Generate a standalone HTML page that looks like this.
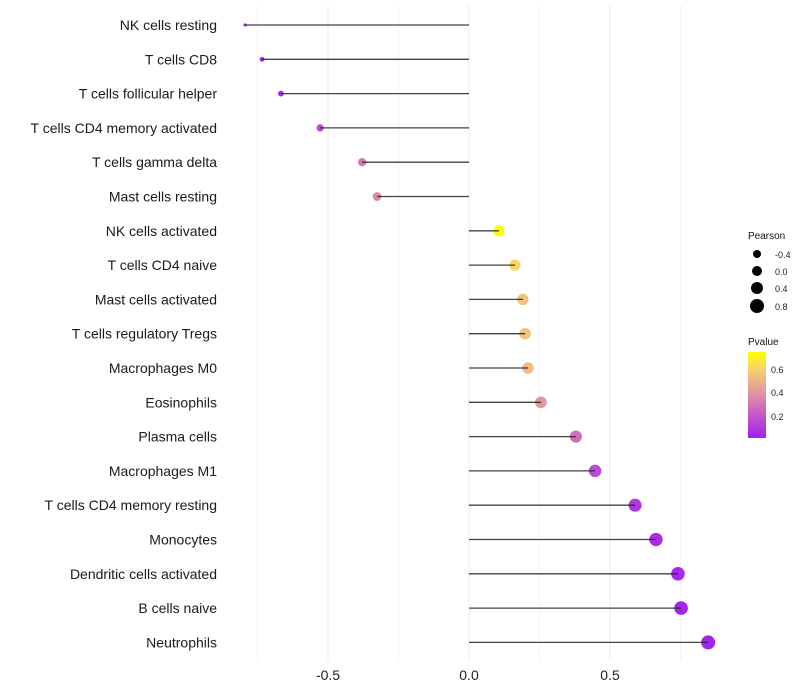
<!DOCTYPE html>
<html><head><meta charset="utf-8"><style>
body{margin:0;background:#fff;}
svg{display:block;font-family:"Liberation Sans",sans-serif;}
</style></head><body>
<svg id="chart" width="800" height="700">
<defs><linearGradient id="pg" x1="0" y1="1" x2="0" y2="0">
<stop offset="0" stop-color="#a020f0"/><stop offset="0.27" stop-color="#c658c8"/><stop offset="0.54" stop-color="#e398a0"/><stop offset="0.8" stop-color="#f7d070"/><stop offset="1" stop-color="#ffff00"/></linearGradient></defs>
<g id="grid"></g>
<g id="marks"></g>
<g id="labels"></g>
<g id="xticks"></g>
<g>
<text x="748" y="239" font-size="10" fill="#111">Pearson</text>
<circle cx="757" cy="254" r="4" fill="#000"/><text x="775" y="258" font-size="9" fill="#222">-0.4</text>
<circle cx="757" cy="271" r="5" fill="#000"/><text x="775" y="275" font-size="9" fill="#222">0.0</text>
<circle cx="757" cy="288" r="6" fill="#000"/><text x="775" y="292" font-size="9" fill="#222">0.4</text>
<circle cx="757" cy="306" r="7" fill="#000"/><text x="775" y="310" font-size="9" fill="#222">0.8</text>
</g>
<g>
<text x="748" y="345" font-size="10" fill="#111">Pvalue</text>
<rect x="748" y="352" width="18" height="86" fill="url(#pg)"/>
<text x="771" y="373" font-size="9" fill="#222">0.6</text>
<text x="771" y="396" font-size="9" fill="#222">0.4</text>
<text x="771" y="420" font-size="9" fill="#222">0.2</text>
</g>
</svg>
<script>
const categories=["NK cells resting","T cells CD8","T cells follicular helper","T cells CD4 memory activated","T cells gamma delta","Mast cells resting","NK cells activated","T cells CD4 naive","Mast cells activated","T cells regulatory  Tregs","Macrophages M0","Eosinophils","Plasma cells","Macrophages M1","T cells CD4 memory resting","Monocytes","Dendritic cells activated","B cells naive","Neutrophils"];
const pearson=[-0.794,-0.734,-0.667,-0.528,-0.379,-0.326,0.106,0.163,0.191,0.199,0.209,0.255,0.379,0.447,0.589,0.663,0.741,0.752,0.848];
const pvalue=[0.02,0.03,0.05,0.15,0.3,0.35,0.75,0.62,0.55,0.55,0.52,0.4,0.27,0.15,0.08,0.05,0.03,0.02,0.01];
const xTicks=[-0.5,0,0.5];
const xTickLabels=["-0.5","0.0","0.5"];
const xMinor=[-0.75,-0.25,0.25,0.75];
const NS="http://www.w3.org/2000/svg";
const x=v=>469+v*282;
const y=i=>25+i*34.3;
const size=v=>1.3+5.7*Math.sqrt(Math.max(v+0.8,0)/1.65);
const stops=[[0,[160,32,240]],[0.2,[198,88,200]],[0.4,[227,152,160]],[0.6,[247,208,112]],[0.75,[255,255,0]]];
function col(p){for(let k=1;k<stops.length;k++){if(p<=stops[k][0]||k==stops.length-1){const a=stops[k-1],b=stops[k];let t=(p-a[0])/(b[0]-a[0]);t=Math.max(0,Math.min(1,t));return "rgb("+a[1].map((c,j)=>Math.round(c+(b[1][j]-c)*t)).join(",")+")";}}}
function mk(t,attrs,parent){const e=document.createElementNS(NS,t);for(const k in attrs)e.setAttribute(k,attrs[k]);parent.appendChild(e);return e;}
const grid=document.getElementById("grid"),marks=document.getElementById("marks"),labels=document.getElementById("labels"),xt=document.getElementById("xticks");
xMinor.forEach(v=>{const l=mk("line",{x1:x(v),x2:x(v),y1:5,y2:660,stroke:"#f3f3f3","stroke-width":1},grid);

});
xTicks.forEach((v,i)=>{const l=mk("line",{x1:x(v),x2:x(v),y1:5,y2:660,stroke:"#ebebeb","stroke-width":1},grid);


const t=mk("text",{x:x(v),y:680,"font-size":14,"text-anchor":"middle",fill:"#222"},xt);t.textContent=xTickLabels[i];

});
categories.forEach((c,i)=>{
const cy=y(i);
const dot=mk("circle",{cx:x(pearson[i]),cy:cy,r:size(pearson[i]).toFixed(2),fill:col(pvalue[i])},marks);


const seg=mk("line",{x1:x(0),x2:x(pearson[i]),y1:cy,y2:cy,stroke:"#222","stroke-width":1.3,"stroke-opacity":0.85},marks);


const t=mk("text",{x:217,y:cy+5,"font-size":14,"text-anchor":"end",fill:"#1a1a1a"},labels);t.textContent=c;


});
</script>
</body></html>
